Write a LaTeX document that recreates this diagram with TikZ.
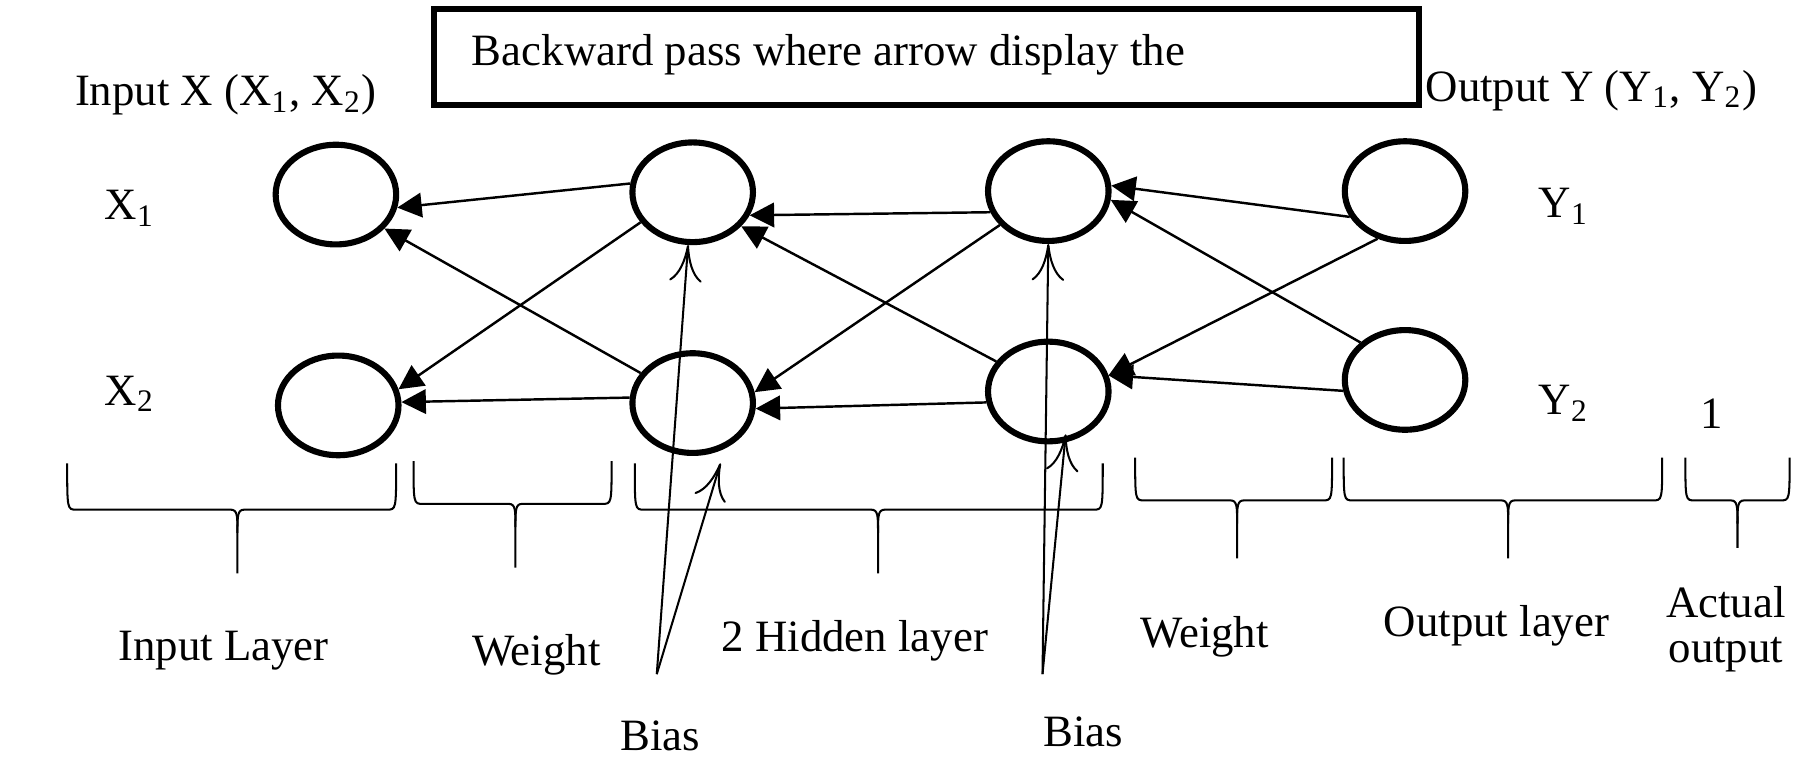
\documentclass[tikz,border=0pt]{standalone}
\usepackage{fontspec}
\setmainfont{Liberation Serif}
\usetikzlibrary{arrows.meta,shapes.geometric}
\newcommand\mybrace[6]{% x1 x2 mid top horiz tip
  \draw[brace] (#1,#4) .. controls (#1,#5) and (#1,#5) .. (#1+8,#5) -- (#3-6,#5)
    .. controls (#3,#5) and (#3,#5+5) .. (#3,#5+20) -- (#3,#6);
  \draw[brace] (#2,#4) .. controls (#2,#5) and (#2,#5) .. (#2-8,#5) -- (#3+6,#5)
    .. controls (#3,#5) and (#3,#5+5) .. (#3,#5+20);}
\begin{document}
\begin{tikzpicture}[x=0.01cm,y=-0.01cm,
  every node/.style={font=\fontsize{11}{13}\selectfont},
  neuron/.style={draw,line width=1.5pt,ellipse,minimum width=1.04cm,minimum height=0.86cm,inner sep=0},
  w/.style={line width=0.6pt,-{Triangle[length=6pt,width=6pt]}},
  bias/.style={line width=0.5pt,-{To[length=9pt,width=8pt]}},
  brace/.style={line width=0.5pt},
  lbl/.style={align=center}]
\useasboundingbox (0,0) rectangle (1560,671);
\node[draw,line width=1.5pt,minimum width=8.5cm,minimum height=0.83cm,anchor=north west,inner sep=0] (box) at (372,5) {};
\node[anchor=west] (title) at (395,47) {Backward pass where arrow display the};
\node (inx) at (195,82) {Input X (X\textsubscript{1}, X\textsubscript{2})};
\node (outy) at (1374,78) {Output Y (Y\textsubscript{1}, Y\textsubscript{2})};
\node[neuron] (i1) at (290,168) {};
\node[neuron] (i2) at (292,350) {};
\node[neuron] (a1) at (598,166) {};
\node[neuron] (a2) at (598,348) {};
\node[neuron] (b1) at (905,165) {};
\node[neuron] (b2) at (905,338) {};
\node[neuron] (o1) at (1213,165) {};
\node[neuron] (o2) at (1213,328) {};
\draw[w] (a1.172) -- (i1.-12);
\draw[w] (a2.150) -- (i1.-35);
\draw[w] (a1.-150) -- (i2.15);
\draw[w] (a2.175) -- (i2.3);
\draw[w] (b1.-160) -- (a1.-22);
\draw[w] (b2.150) -- (a1.-35);
\draw[w] (b1.-145) -- (a2.10);
\draw[w] (b2.-170) -- (a2.-5);
\draw[w] (o1.-155) -- (b1.5);
\draw[w] (o2.140) -- (b1.-8);
\draw[w] (o1.-120) -- (b2.15);
\draw[w] (o2.-170) -- (b2.15);
\coordinate (s1) at (567,582);
\coordinate (s2) at (900,582);
\draw[bias] (s1) -- (a1.-95);
\draw[bias] (s1) -- (622,400);
\draw[bias] (s2) -- (b1.-90);
\draw[bias] (s2) -- (920,375);
\node (bias1) at (570,635) {Bias};
\node (bias2) at (935,632) {Bias};
\node (x1) at (112,180) {X\textsubscript{1}};
\node (x2) at (112,340) {X\textsubscript{2}};
\node (y1) at (1350,178) {Y\textsubscript{1}};
\node (y2) at (1350,348) {Y\textsubscript{2}};
\node (one) at (1478,357) {1};
\mybrace{58}{342}{205}{400}{440}{495}
\mybrace{357}{528}{445}{398}{435}{490}
\mybrace{548}{952}{758}{400}{440}{495}
\mybrace{980}{1150}{1068}{395}{432}{482}
\mybrace{1160}{1435}{1302}{395}{432}{482}
\mybrace{1455}{1545}{1500}{395}{432}{473}
\node (l1) at (193,562) {Input Layer};
\node (l2) at (463,565) {Weight};
\node (l3) at (738,553) {2 Hidden layer};
\node (l4) at (1040,550) {Weight};
\node (l5) at (1292,540) {Output layer};
\node[lbl] (l6) at (1490,543) {Actual\\[-2pt]output};
\end{tikzpicture}
\end{document}
